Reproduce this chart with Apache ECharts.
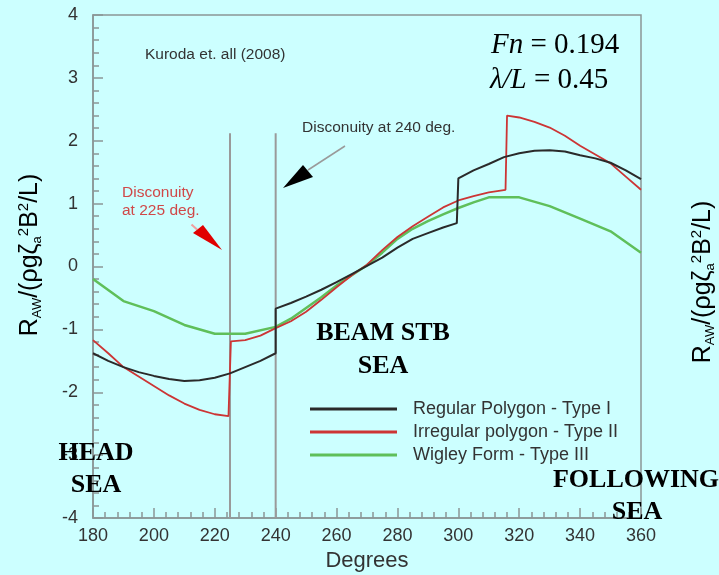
<!DOCTYPE html>
<html><head><meta charset="utf-8">
<script src="https://cdn.jsdelivr.net/npm/echarts@6/dist/echarts.min.js"></script>
<style>html,body{margin:0;padding:0;background:#ccffff;}#c{width:719px;height:575px;}</style>
</head><body><div id="c"></div>
<script>
const xTicks = [180,200,220,240,260,280,300,320,340,360];
const yTicks = [-4,-3,-2,-1,0,1,2,3,4];
const seriesNames = ['Regular Polygon - Type I','Irregular polygon - Type II','Wigley Form - Type III'];
const regularPolygon = [[180,-1.38],[185,-1.5],[190,-1.6],[195,-1.68],[200,-1.74],[205,-1.79],[210,-1.82],[215,-1.81],[220,-1.77],[225,-1.70],[230,-1.60],[235,-1.50],[240,-1.38],[240,-0.67],[245,-0.58],[250,-0.48],[255,-0.37],[260,-0.25],[265,-0.12],[270,0.01],[275,0.14],[280,0.30],[285,0.44],[290,0.53],[295,0.62],[299.5,0.69],[300,1.40],[305,1.53],[310,1.63],[315,1.74],[320,1.80],[325,1.84],[330,1.85],[335,1.83],[340,1.77],[345,1.72],[350,1.65],[355,1.53],[360,1.39]];
const irregularPolygon = [[180,-1.17],[185,-1.38],[190,-1.6],[195,-1.75],[200,-1.9],[205,-2.05],[210,-2.18],[215,-2.28],[220,-2.35],[224.5,-2.38],[225.3,-1.19],[230,-1.17],[235,-1.10],[240,-0.98],[245,-0.87],[250,-0.72],[255,-0.53],[260,-0.33],[265,-0.14],[270,0.03],[275,0.26],[280,0.47],[285,0.64],[290,0.79],[295,0.94],[300,1.05],[305,1.12],[310,1.18],[315.5,1.22],[316,2.40],[320,2.37],[325,2.30],[330,2.21],[335,2.08],[340,1.92],[345,1.78],[350,1.64],[355,1.43],[360,1.22]];
const wigleyForm = [[180,-0.2],[190,-0.55],[200,-0.71],[210,-0.93],[220,-1.07],[230,-1.07],[240,-0.96],[245,-0.83],[250,-0.66],[255,-0.49],[260,-0.30],[265,-0.14],[270,0.02],[275,0.22],[280,0.44],[285,0.60],[290,0.72],[295,0.83],[300,0.93],[305,1.02],[310,1.10],[320,1.10],[330,0.96],[340,0.76],[350,0.56],[360,0.22]];
const discontinuity225 = [[225,2.12],[225,-4]];
const discontinuity240 = [[240,2.12],[240,-4]];

const chart = echarts.init(document.getElementById('c'), null, {renderer:'canvas'});
const axisGray = '#8a9696';
const sans = "'Liberation Sans', Arial, sans-serif";
const serif = "'Liberation Serif', 'Times New Roman', serif";
function T(x,y,text,font,fill,align,valign,extra){
  return Object.assign({type:'text', x:x, y:y, z:100, style:{text:text, font:font, fill:fill, textAlign:align||'left', align:align||'left', textVerticalAlign:valign||'middle', verticalAlign:valign||'middle'}}, extra||{});
}
const yNameRich = {
  n:{fontFamily:sans, fontSize:25, color:'#333', lineHeight:30},
  sub:{fontFamily:sans, fontSize:13, color:'#333', lineHeight:30, padding:[14,0,0,0]},
  sup:{fontFamily:sans, fontSize:15, color:'#333', lineHeight:30, padding:[0,0,12,0]}
};
const yNameText = '{n|R}{sub|AW}{n|/(ρgζ}{sub|a}{sup|2}{n|B}{sup|2}{n|/L)}';
function yName(x,y){
  return {type:'text', x:x, y:y, rotation:Math.PI/2, z:100, style:{text:yNameText, rich:yNameRich, textAlign:'center', align:'center', textVerticalAlign:'middle', verticalAlign:'middle'}};
}
const lineStyleBase = {type:'line', symbol:'none', smooth:false};
chart.setOption({
  backgroundColor:'#ccffff',
  animation:false,
  grid:{left:93, right:78, top:15, bottom:57, show:true, borderColor:axisGray, borderWidth:1.5, backgroundColor:'transparent', outerBoundsMode:'none', containLabel:false},
  xAxis:{type:'value', min:xTicks[0], max:xTicks[xTicks.length-1], interval:20,
    name:'Degrees', nameLocation:'middle', nameGap:32, nameTextStyle:{fontFamily:sans, fontSize:22, color:'#333'},
    axisLine:{show:true, onZero:false, lineStyle:{color:axisGray, width:1.5}},
    axisTick:{show:true, inside:true, length:10, lineStyle:{color:axisGray, width:1.5}},
    minorTick:{show:true, splitNumber:5, length:6, lineStyle:{color:axisGray, width:1.5}},
    splitLine:{show:false},
    axisLabel:{fontFamily:sans, fontSize:18, color:'#333', margin:9}},
  yAxis:{type:'value', min:yTicks[0], max:yTicks[yTicks.length-1], interval:1,
    axisLine:{show:true, onZero:false, lineStyle:{color:axisGray, width:1.5}},
    axisTick:{show:true, inside:true, length:10, lineStyle:{color:axisGray, width:1.5}},
    minorTick:{show:true, splitNumber:5, length:6, lineStyle:{color:axisGray, width:1.5}},
    splitLine:{show:false},
    axisLabel:{fontFamily:sans, fontSize:18, color:'#333', margin:15}},
  legend:{orient:'vertical', left:310, top:399, padding:0, itemWidth:87, itemHeight:3, itemGap:3, icon:'rect',
    data:seriesNames,
    textStyle:{fontFamily:sans, fontSize:18, lineHeight:20, color:'#333', padding:[0,0,0,11]}},
  series:[
    Object.assign({}, lineStyleBase, {name:'disc225', data:discontinuity225, lineStyle:{color:'#9a9a9a', width:2}, z:1, silent:true}),
    Object.assign({}, lineStyleBase, {name:'disc240', data:discontinuity240, lineStyle:{color:'#9a9a9a', width:2}, z:1, silent:true}),
    Object.assign({}, lineStyleBase, {name:seriesNames[2], data:wigleyForm, color:'#5fbf5a', lineStyle:{color:'#5fbf5a', width:2.5}}),
    Object.assign({}, lineStyleBase, {name:seriesNames[1], data:irregularPolygon, color:'#cc3535', lineStyle:{color:'#cc3535', width:1.8}}),
    Object.assign({}, lineStyleBase, {name:seriesNames[0], data:regularPolygon, color:'#2a2a2a', lineStyle:{color:'#2a2a2a', width:2}})
  ],
  graphic:[
    T(145,55,'Kuroda et. all (2008)','15.5px '+sans,'#333'),
    T(302,128,'Disconuity at 240 deg.','15.5px '+sans,'#333'),
    T(122,193,'Disconuity','15.5px '+sans,'#d04848'),
    T(122,211,'at 225 deg.','15.5px '+sans,'#d04848'),
    {type:'line', z:90, shape:{x1:345,y1:146,x2:308,y2:170}, style:{stroke:'#9a9a9a', lineWidth:1.5}},
    {type:'polygon', z:91, shape:{points:[[283,188],[303,165],[313,177]]}, style:{fill:'#000'}},
    {type:'line', z:90, shape:{x1:191.5,y1:224.5,x2:197,y2:229.5}, style:{stroke:'#f0a0a0', lineWidth:2}},
    {type:'polygon', z:91, shape:{points:[[222,250],[193,233],[203,225]]}, style:{fill:'#e00000'}},
    {type:'text', x:491, y:45, z:100, style:{text:'{i|Fn} = 0.194', rich:{i:{fontFamily:serif, fontStyle:'italic', fontSize:29, color:'#000'}}, font:'29px '+serif, fill:'#000', textVerticalAlign:'middle', verticalAlign:'middle'}},
    {type:'text', x:490, y:80, z:100, style:{text:'{i|λ/L} = 0.45', rich:{i:{fontFamily:serif, fontStyle:'italic', fontSize:29, color:'#000'}}, font:'29px '+serif, fill:'#000', textVerticalAlign:'middle', verticalAlign:'middle'}},
    T(383,333,'BEAM STB','bold 26px '+serif,'#000','center'),
    T(383,366,'SEA','bold 26px '+serif,'#000','center'),
    T(96,453,'HEAD','bold 26px '+serif,'#000','center'),
    T(96,485,'SEA','bold 26px '+serif,'#000','center'),
    T(636,480,'FOLLOWING','bold 26px '+serif,'#000','center'),
    T(637,512,'SEA','bold 26px '+serif,'#000','center'),
    yName(30,255),
    yName(703,282)
  ]
});
</script></body></html>
